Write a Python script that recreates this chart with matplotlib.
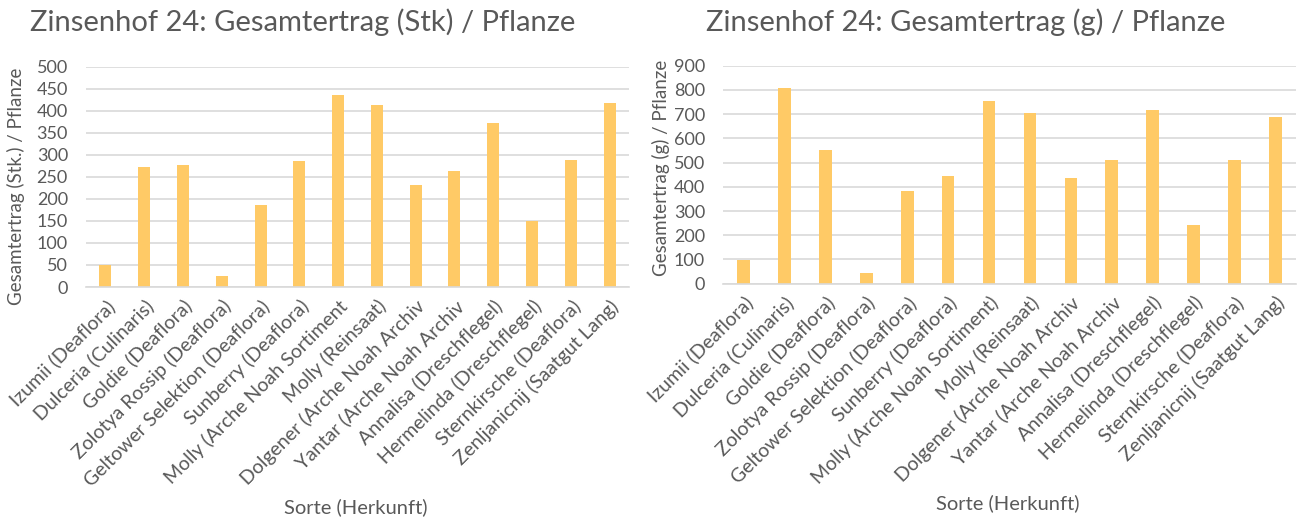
import numpy as np
import matplotlib.pyplot as plt

plt.rcParams['font.family'] = ['Lato', 'DejaVu Sans']

# category labels as shown under each chart
sorten_stk = ['Izumii (Deaflora)', 'Dulceria (Culinaris)', 'Goldie (Deaflora)',
              'Zolotya Rossip (Deaflora)', 'Geltower Selektion (Deaflora)',
              'Sunberry (Deaflora)', 'Molly (Arche Noah Sortiment',
              'Molly (Reinsaat)', 'Dolgener (Arche Noah Archiv',
              'Yantar (Arche Noah Archiv', 'Annalisa (Dreschflegel)',
              'Hermelinda (Dreschflegel)', 'Sternkirsche (Deaflora)',
              'Zenljanicnij (Saatgut Lang)']
sorten_g = sorten_stk[:6] + ['Molly (Arche Noah Sortiment)'] + sorten_stk[7:]

# values
ertrag_stk = [50, 273, 278, 24, 187, 285, 436, 414, 232, 264, 373, 150, 289, 418]
ertrag_g = [99, 808, 552, 45, 383, 444, 754, 705, 436, 510, 717, 242, 510, 688]

BAR = '#FFCA66'
GRID = '#D9D9D9'
TXT = '#595959'

W, H = 1306, 518
fig = plt.figure(figsize=(W / 100, H / 100), dpi=100)


def draw(box, labels, values, ymax, step, title, ylabel, title_x, xlabel_x, xlabel_y,
         ylab_pos):
    ax = fig.add_axes(box)
    x = np.arange(len(values))
    ax.bar(x, values, width=0.31, color=BAR, zorder=2)
    ax.set_xlim(-0.5, len(values) - 0.5)
    ax.set_ylim(0, ymax)
    ax.set_yticks(np.arange(0, ymax + 1, step))
    ax.yaxis.grid(True, color=GRID, linewidth=1.2, zorder=0)
    for s in ['top', 'right', 'left']:
        ax.spines[s].set_visible(False)
    ax.spines['bottom'].set_color(GRID)
    ax.spines['bottom'].set_linewidth(1.2)
    ax.tick_params(axis='both', length=0, colors=TXT)
    ax.tick_params(axis='y', labelsize=13, pad=13)
    ax.tick_params(axis='x', pad=7)
    ax.set_xticks(x)
    ax.set_xticklabels(labels, rotation=45, ha='right', rotation_mode='anchor',
                       fontsize=14, color=TXT)
    ax.set_ylabel(ylabel, fontsize=13.5, color=TXT)
    ax.yaxis.set_label_coords(*ylab_pos)
    fig.text(title_x / W, 1 - 22 / H, title, fontsize=21, color=TXT,
             ha='center', va='center')
    fig.text(xlabel_x / W, 1 - xlabel_y / H, 'Sorte (Herkunft)', fontsize=14.5,
             color=TXT, ha='center', va='center')
    return ax


draw([86 / W, 1 - 287 / H, (629 - 86) / W, (287 - 66.7) / H],
     sorten_stk, ertrag_stk, 500, 50,
     'Zinsenhof 24: Gesamtertrag (Stk) / Pflanze', 'Gesamtertrag (Stk.) / Pflanze',
     303, 356, 507, (-0.112, 0.458))
draw([723 / W, 1 - 283.7 / H, (1296 - 723) / W, (283.7 - 65.7) / H],
     sorten_g, ertrag_g, 900, 100,
     'Zinsenhof 24: Gesamtertrag (g) / Pflanze', 'Gesamtertrag (g) / Pflanze',
     966, 1008, 503, (-0.092, 0.53))

plt.savefig('out.png', dpi=100)
